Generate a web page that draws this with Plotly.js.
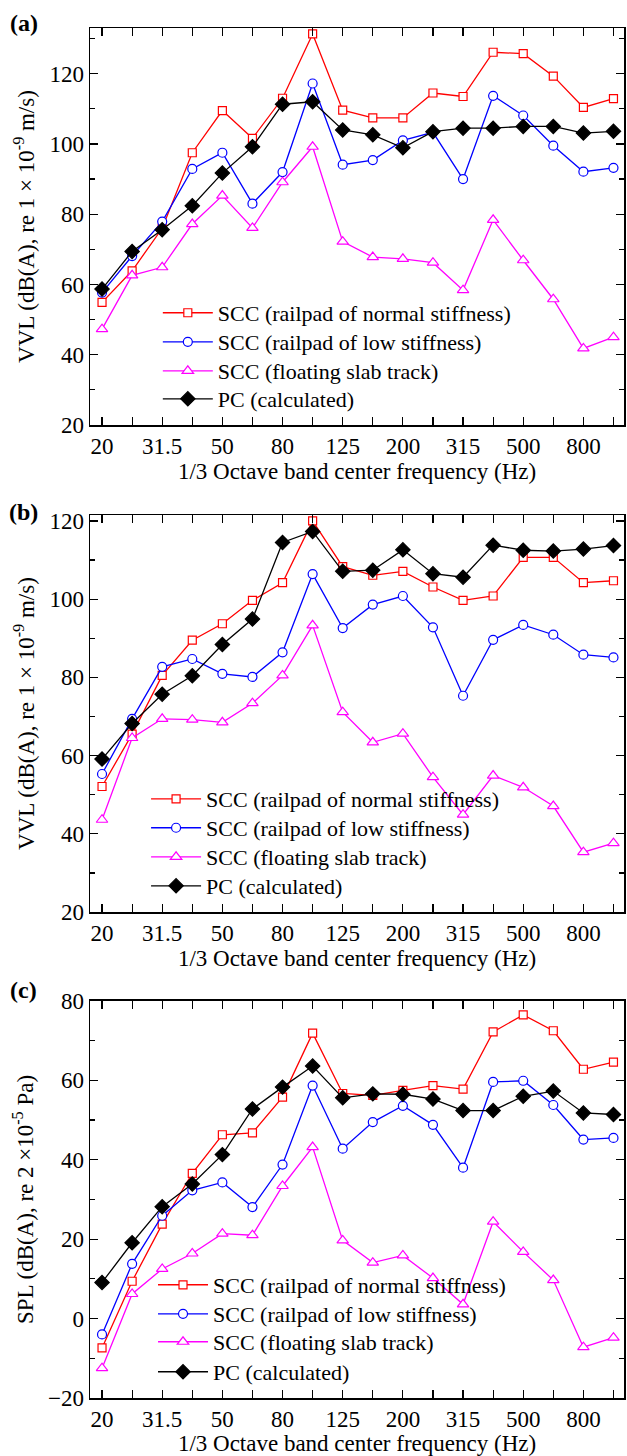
<!DOCTYPE html>
<html><head><meta charset="utf-8">
<script src="https://cdn.plot.ly/plotly-3.0.1.min.js"></script>
<style>html,body{margin:0;padding:0;background:#fff}</style>
</head><body>
<div id="chart" style="width:627px;height:1456px"></div>
<script>
const freqs = ['20','25','31.5','40','50','63','80','100','125','160','200','250','315','400','500','630','800','1000'];
const tickLabels = ['20','','31.5','','50','','80','','125','','200','','315','','500','','800',''];
const seriesNames = ['SCC (railpad of normal stiffness)','SCC (railpad of low stiffness)','SCC (floating slab track)','PC (calculated)'];

// Panel (a) VVL
const aNormal = [54.9,63.9,76.0,97.5,109.5,101.6,113.0,131.3,109.6,107.4,107.4,114.5,113.5,126.1,125.7,119.3,110.4,112.9];
const aLow    = [57.7,68.1,77.9,92.9,97.5,83.0,92.0,117.2,94.1,95.4,101.0,103.3,90.0,113.7,108.1,99.5,92.1,93.2];
const aFloat  = [47.3,62.6,64.9,77.2,85.3,76.1,89.1,99.2,72.2,67.8,67.3,66.2,58.4,78.4,66.9,55.8,41.8,45.0];
const aPC     = [58.7,69.4,75.6,82.4,91.7,99.2,111.3,112.0,104.0,102.6,98.9,103.5,104.5,104.5,105.0,105.0,103.1,103.6];

// Panel (b) VVL
const bNormal = [52.1,65.5,80.5,89.5,93.7,99.7,104.2,120.0,108.3,106.1,107.1,103.1,99.7,100.8,110.7,110.7,104.2,104.7];
const bLow    = [55.3,69.4,82.7,84.7,80.9,80.1,86.4,106.4,92.6,98.6,100.8,92.8,75.3,89.6,93.4,90.9,85.8,85.1];
const bFloat  = [43.6,64.5,69.4,69.2,68.5,73.4,80.5,93.3,71.1,63.4,65.6,54.5,44.9,54.9,51.9,47.1,35.3,37.6];
const bPC     = [59.1,68.2,75.7,80.4,88.4,94.9,114.5,117.3,107.1,107.4,112.6,106.5,105.6,113.8,112.5,112.3,112.8,113.7];

// Panel (c) SPL
const cNormal = [-7.4,9.4,23.8,36.6,46.3,46.8,55.8,71.9,56.7,56.2,57.5,58.7,57.8,72.2,76.5,72.5,62.8,64.6];
const cLow    = [-4.0,13.8,25.9,32.3,34.3,28.1,38.8,58.7,42.8,49.5,53.6,48.8,38.0,59.6,59.9,53.8,45.1,45.5];
const cFloat  = [-12.5,6.2,12.5,16.4,21.4,21.0,33.4,43.2,19.7,14.1,15.9,10.2,3.6,24.4,16.8,9.7,-7.2,-4.8];
const cPC     = [9.1,19.1,28.2,33.9,41.3,52.8,58.3,63.6,55.6,56.6,56.5,55.3,52.4,52.4,56.0,57.3,51.8,51.4];

const FONT = 'Liberation Serif';
const styles = [
  {color:'#ff0000', symbol:'square', size:8, fill:'#ffffff'},
  {color:'#0000ff', symbol:'circle', size:9, fill:'#ffffff'},
  {color:'#ff00ff', symbol:'triangle-up', size:10, fill:'#ffffff'},
  {color:'#000000', symbol:'diamond', size:11, fill:'#000000'}
];

// legend placement per panel (paper x of legend, paper y of each entry)
const panels = [
  {data:[aNormal,aLow,aFloat,aPC], xa:'x', ya:'y', lx:0.127, ly:[0.7920,0.7708,0.7496,0.7292]},
  {data:[bNormal,bLow,bFloat,bPC], xa:'x2', ya:'y2', lx:0.105, ly:[0.4372,0.4161,0.3949,0.3737]},
  {data:[cNormal,cLow,cFloat,cPC], xa:'x3', ya:'y3', lx:0.118, ly:[0.0825,0.0613,0.0409,0.0190]}
];

const traces = [];
const legends = {};
let lgIdx = 1;
panels.forEach(p => {
  p.data.forEach((vals, i) => {
    const s = styles[i];
    const key = lgIdx === 1 ? 'legend' : 'legend' + lgIdx;
    legends[key] = {font:{family:FONT, size:22, color:'black'}, bgcolor:'rgba(0,0,0,0)', borderwidth:0,
      xanchor:'left', yanchor:'middle', itemwidth:50, x:p.lx, y:p.ly[i]};
    traces.push({
      type:'scatter', mode:'lines+markers', x:freqs, y:vals,
      name:seriesNames[i], xaxis:p.xa, yaxis:p.ya, legend:key,
      line:{color:s.color, width:1.3},
      marker:{symbol:s.symbol, size:s.size, color:s.fill, line:{color:s.color, width:1.2}}
    });
    lgIdx++;
  });
});

const axLine = {showline:true, linecolor:'black', linewidth:1.5, mirror:'ticks', ticks:'inside',
  ticklen:8, tickwidth:1.2, tickcolor:'black', showgrid:false, zeroline:false,
  tickfont:{family:FONT, size:23, color:'black'}};

function xAxis(anchor){
  return Object.assign({}, axLine, {
    type:'category', anchor:anchor, domain:[0,1], range:[-0.4,17.35],
    tickmode:'array', tickvals:freqs, ticktext:tickLabels,
    title:{text:'1/3 Octave band center frequency (Hz)', font:{family:FONT, size:23, color:'black'}, standoff:4}
  });
}
function yAxis(anchor, domain, range, title){
  return Object.assign({}, axLine, {
    anchor:anchor, domain:domain, range:range, tick0:0, dtick:20,
    minor:{ticks:'inside', ticklen:5, dtick:10, tickcolor:'black', tickwidth:1.2, showgrid:false},
    title:{text:title, font:{family:FONT, size:23, color:'black'}, standoff:8}
  });
}

const layout = Object.assign({
  width:627, height:1456, paper_bgcolor:'#fff', plot_bgcolor:'#fff',
  margin:{l:90, r:3, t:28, b:58},
  font:{family:FONT, color:'black'},
  xaxis:xAxis('y'), xaxis2:xAxis('y2'), xaxis3:xAxis('y3'),
  yaxis:yAxis('x',[0.7102,1],[20,133],'VVL (dB(A), re 1 × 10<sup>-9</sup> m/s)'),
  yaxis2:yAxis('x2',[0.3547,0.6445],[20,121.5],'VVL (dB(A), re 1 × 10<sup>-9</sup> m/s)'),
  yaxis3:yAxis('x3',[0,0.2898],[-20,80],'SPL (dB(A), re 2 ×10<sup>-5</sup> Pa)'),
  annotations:[
    {text:'<b>(a)</b>', xref:'paper', yref:'paper', x:-0.1236, y:1.0036, xanchor:'center', yanchor:'middle', showarrow:false, font:{family:FONT, size:24, color:'black'}},
    {text:'<b>(b)</b>', xref:'paper', yref:'paper', x:-0.1236, y:0.6467, xanchor:'center', yanchor:'middle', showarrow:false, font:{family:FONT, size:24, color:'black'}},
    {text:'<b>(c)</b>', xref:'paper', yref:'paper', x:-0.1236, y:0.2978, xanchor:'center', yanchor:'middle', showarrow:false, font:{family:FONT, size:24, color:'black'}}
  ],
  showlegend:true
}, legends);

Plotly.newPlot('chart', traces, layout, {displayModeBar:false, staticPlot:true});
</script>
</body></html>
